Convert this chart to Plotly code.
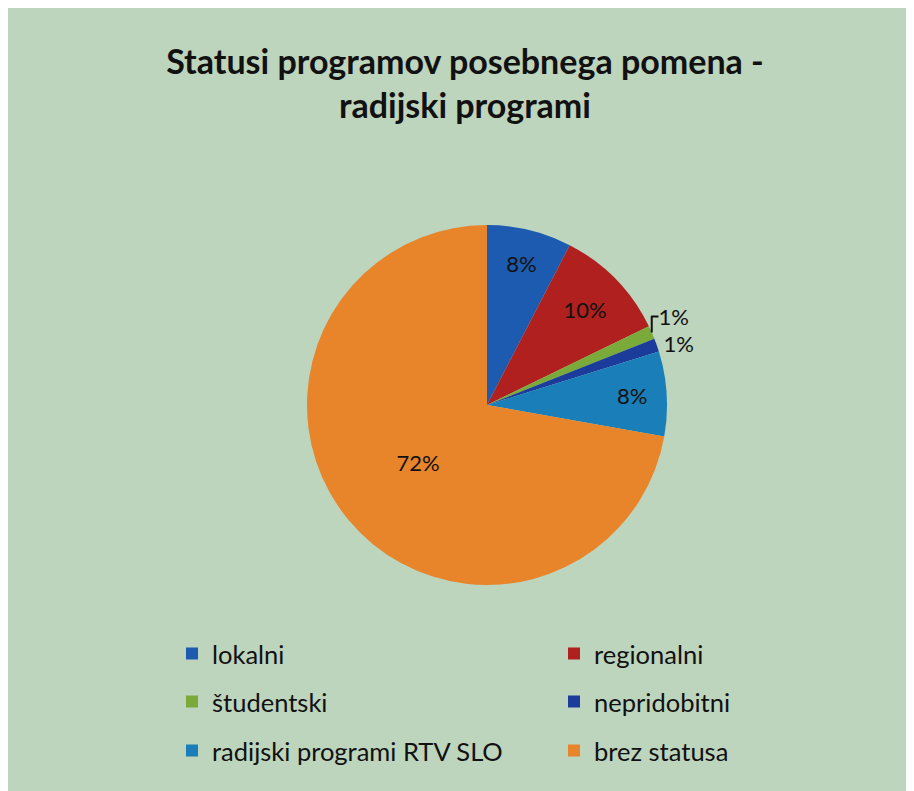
import plotly.graph_objects as go

categories = ["lokalni", "regionalni", "študentski", "nepridobitni", "radijski programi RTV SLO", "brez statusa"]
values = [7.6, 10.2, 1.2, 1.2, 7.6, 72.2]
colors = ["#1C5BB0", "#B0201E", "#7AAA3A", "#1C3C9C", "#1A7EB8", "#E8842A"]
title_text = "Statusi programov posebnega pomena -<br>radijski programi"

W, H = 914, 791
cx, cy, r = 479, 397, 180
FONT = "Lato, Open Sans, sans-serif"
BG = "#BDD4BD"

fig = go.Figure()
fig.add_trace(go.Pie(
    labels=categories, values=values, sort=False, direction="clockwise", rotation=0,
    marker=dict(colors=colors, line=dict(width=0)),
    textinfo="percent", texttemplate="%{percent:.0%}",
    textposition=["inside", "inside", "outside", "outside", "inside", "inside"],
    insidetextorientation="horizontal",
    textfont=dict(family=FONT, size=22, color="#111111"),
    showlegend=False,
    domain=dict(x=[(cx - r) / W, (cx + r) / W], y=[1 - (cy + r) / H, 1 - (cy - r) / H]),
))

legend_names = ["legend", "legend2", "legend3", "legend4", "legend5", "legend6"]
for i, (cat, col) in enumerate(zip(categories, colors)):
    fig.add_trace(go.Scatter(
        x=[None], y=[None], mode="markers", name=cat,
        marker=dict(symbol="square", size=12, color=col),
        legend=legend_names[i], showlegend=True,
    ))

row_y = [646, 694, 743]
col_x = [164, 546]
legend_common = dict(orientation="v", xanchor="left", yanchor="middle",
                     bgcolor="rgba(0,0,0,0)", font=dict(family=FONT, size=25.5, color="#111111"),
                     itemsizing="constant")
layout_legends = {}
for i, name in enumerate(legend_names):
    layout_legends[name] = dict(legend_common, x=col_x[i % 2] / W, y=1 - row_y[i // 2] / H)

fig.update_layout(
    width=W, height=H,
    paper_bgcolor=BG, plot_bgcolor=BG,
    margin=dict(l=0, r=0, t=0, b=0),
    title=dict(text=title_text, x=0.5, xanchor="center", y=1 - 66 / H, yanchor="top",
               font=dict(family=FONT, size=34, color="#111111", weight="bold")),
    xaxis=dict(visible=False), yaxis=dict(visible=False),
    **layout_legends,
)

fig.write_html("out.html")
